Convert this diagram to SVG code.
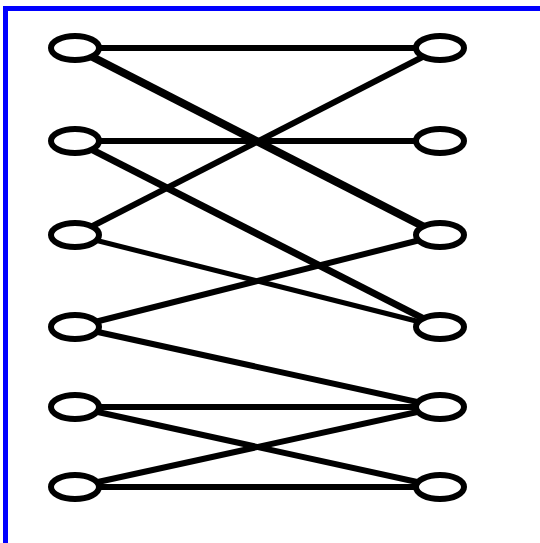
<svg xmlns="http://www.w3.org/2000/svg" width="540" height="543" viewBox="0 0 540 543">
<style>
.e{stroke:#000;stroke-linecap:butt;fill:none}
.n{fill:#fff;stroke:#000;stroke-width:6}
.b{stroke:#0000ff;stroke-width:5;fill:none}
</style>
<rect x="0" y="0" width="540" height="543" fill="#fff"/>
<g id="border">
<path class="b" d="M5.5 543 V8.5 H540"/>
</g>
<g id="connectors">
<line class="e" stroke-width="6" x1="75" y1="48" x2="440" y2="48"/>
<line class="e" stroke-width="8" x1="75" y1="48" x2="440" y2="235"/>
<line class="e" stroke-width="6" x1="75" y1="141" x2="440" y2="141"/>
<line class="e" stroke-width="7" x1="75" y1="141" x2="440" y2="327"/>
<line class="e" stroke-width="6" x1="75" y1="235" x2="440" y2="48"/>
<line class="e" stroke-width="5" x1="75" y1="235" x2="440" y2="327"/>
<line class="e" stroke-width="6" x1="75" y1="327" x2="440" y2="235"/>
<line class="e" stroke-width="6" x1="75" y1="327" x2="440" y2="407"/>
<line class="e" stroke-width="6" x1="75" y1="407" x2="440" y2="407"/>
<line class="e" stroke-width="6" x1="75" y1="407" x2="440" y2="487"/>
<line class="e" stroke-width="6" x1="75" y1="487" x2="440" y2="407"/>
<line class="e" stroke-width="6" x1="75" y1="487" x2="440" y2="487"/>
</g>
<g id="L1"><ellipse class="n" cx="75" cy="48" rx="24" ry="12"/></g>
<g id="L2"><ellipse class="n" cx="75" cy="141" rx="24" ry="12"/></g>
<g id="L3"><ellipse class="n" cx="75" cy="235" rx="24" ry="12"/></g>
<g id="L4"><ellipse class="n" cx="75" cy="327" rx="24" ry="12"/></g>
<g id="L5"><ellipse class="n" cx="75" cy="407" rx="24" ry="12"/></g>
<g id="L6"><ellipse class="n" cx="75" cy="487" rx="24" ry="12"/></g>
<g id="R1"><ellipse class="n" cx="440" cy="48" rx="24" ry="12"/></g>
<g id="R2"><ellipse class="n" cx="440" cy="141" rx="24" ry="12"/></g>
<g id="R3"><ellipse class="n" cx="440" cy="235" rx="24" ry="12"/></g>
<g id="R4"><ellipse class="n" cx="440" cy="327" rx="24" ry="12"/></g>
<g id="R5"><ellipse class="n" cx="440" cy="407" rx="24" ry="12"/></g>
<g id="R6"><ellipse class="n" cx="440" cy="487" rx="24" ry="12"/></g>
</svg>
